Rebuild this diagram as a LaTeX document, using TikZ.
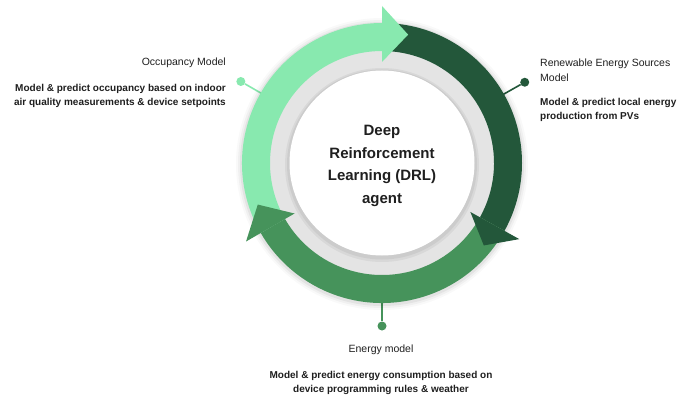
\documentclass[tikz,border=0pt]{standalone}
\usepackage{fontspec}
\setmainfont{Liberation Sans}
\usetikzlibrary{calc}

\definecolor{lightgreen}{HTML}{88E9AF}
\definecolor{darkgreen}{HTML}{23573A}
\definecolor{midgreen}{HTML}{46935B}
\definecolor{ringgray}{HTML}{E4E4E4}
\definecolor{inktext}{HTML}{1F1F1F}

% band of the cycle ring between two angles
\newcommand\ringband[3]{%
  \fill[#1] ($(C)+(#2:140)$) arc[start angle=#2,end angle=#3,radius=140]
    -- ($(C)+(#3:112)$) arc[start angle=#3,end angle=#2,radius=112] -- cycle;}
% arrow head: back edge at angle #2, tip at angle #3
\newcommand\ringhead[3]{%
  \fill[#1] ($(C)+(#2:101)$) -- ($(C)+(#3:131)$) -- ($(C)+(#2:157)$) -- cycle;}

\begin{document}
\begin{tikzpicture}[x=1pt,y=1pt,
  title/.style={anchor=#1,inner sep=0pt,text=inktext,font=\fontsize{10.5}{15}\selectfont},
  detail/.style={anchor=#1,inner sep=0pt,text=inktext,font=\bfseries\fontsize{10}{14.5}\selectfont},
  pin/.style={circle,fill=#1,minimum size=9pt,inner sep=0pt},
  pinline/.style={draw=#1,line width=1.6pt}]
\useasboundingbox (0,0) rectangle (678,-396);
\fill[white] (0,0) rectangle (678,-396);
\coordinate (C) at (382,-163);

% pins and their leader lines
\node[pin=lightgreen] (occDot) at ($(C)+(150:163)$) {};
\node[pin=darkgreen] (resDot) at ($(C)+(29.5:164)$) {};
\node[pin=midgreen] (enDot) at ($(C)+(270:163)$) {};
\coordinate (occRing) at ($(C)+(150:125)$);
\coordinate (resRing) at ($(C)+(29.5:125)$);
\coordinate (enRing) at ($(C)+(270:125)$);
\draw[pinline=lightgreen] (occRing) -- (occDot);
\draw[pinline=darkgreen] (resRing) -- (resDot);
\draw[pinline=midgreen] (enRing) -- (enDot);

% soft shadow around the ring
\foreach \r/\o in {146/0.025,144/0.035,142/0.05}
  \fill[black,opacity=\o] ($(C)+(0,-1)$) circle[radius=\r];

% grey inner disc and white centre
\fill[ringgray] (C) circle[radius=113];
\fill[black,opacity=0.05] ($(C)+(0,-2)$) circle[radius=97];
\fill[black,opacity=0.05] ($(C)+(0,-1.5)$) circle[radius=95];
\fill[white] (C) circle[radius=92.5];

% cycle arrows: bodies first, then heads on top
\ringband{lightgreen}{210}{90}
\ringband{darkgreen}{90}{-29}
\ringband{midgreen}{-29}{-150}
\ringhead{lightgreen}{90}{78.5}
\ringhead{darkgreen}{-29}{-39}
\ringhead{midgreen}{-150}{-161.5}

% centre label
\node[inner sep=0pt,text=inktext,align=center,font=\bfseries\fontsize{15}{22.5}\selectfont]
  (drl) at (382,-166) {Deep\\Reinforcement\\Learning (DRL)\\agent};

% occupancy model
\node[title=east] (occT) at (226,-63) {Occupancy Model};
\node[detail=east,align=right] (occD) at (226,-96)
  {Model \& predict occupancy based on indoor\\air quality measurements \& device setpoints};

% renewable energy sources model
\node[title=west,align=left] (resT) at (540,-70) {Renewable Energy Sources\\Model};
\node[detail=west,align=left] (resD) at (540,-110) {Model \& predict local energy\\production from PVs};

% energy model
\node[title=center] (enT) at (381,-350) {Energy model};
\node[detail=center,align=center] (enD) at (381,-383)
  {Model \& predict energy consumption based on\\device programming rules \& weather};
\end{tikzpicture}
\end{document}
